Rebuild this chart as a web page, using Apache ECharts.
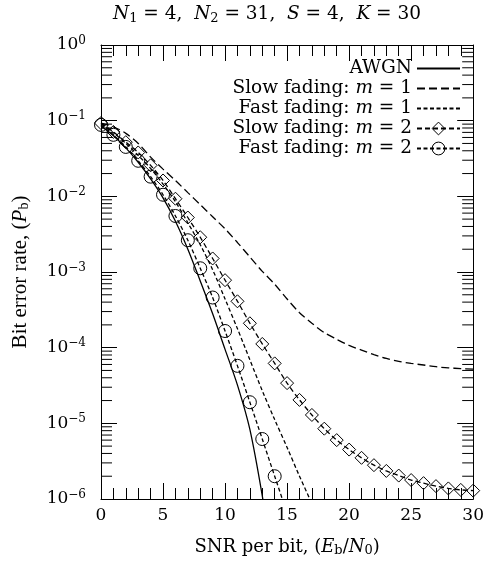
<!DOCTYPE html>
<html><head><meta charset="utf-8">
<script src="https://cdn.jsdelivr.net/npm/echarts@6/dist/echarts.min.js"></script>
<style>html,body{margin:0;padding:0;background:#fff}#c{width:487px;height:563px}</style>
</head><body><div id="c"></div>
<script>
// ---- data ----
const snrAwgn = [0,1,2,3,4,5,6,7,8,9,10,11,12,13,14];
const berAwgn = [0.0851,0.0631,0.0437,0.0282,0.0170,0.00955,0.00468,0.00200,7.6e-4,2.8e-4,9.5e-5,3.2e-5,8.3e-6,1.1e-6,1.0e-7];

const snrSlow1 = [0,1,2,3,4,5,6,7,8,9,10,11,12,13,14,15,16,17,18,19,20,21,22,23,24,25,26,27,28,29,30];
const berSlow1 = [0.093,0.083,0.068,0.050,0.033,0.0229,0.0162,0.0112,0.00776,0.00537,0.00372,0.00245,0.00158,0.00102,6.9e-4,4.4e-4,2.9e-4,2.1e-4,1.58e-4,1.29e-4,1.07e-4,9.3e-5,8.1e-5,7.2e-5,6.6e-5,6.2e-5,5.9e-5,5.6e-5,5.4e-5,5.3e-5,5.2e-5];

const snrFast1 = [0,1,2,3,4,5,6,7,8,9,10,11,12,13,14,15,16,17];
const berFast1 = [0.091,0.069,0.050,0.0347,0.0234,0.0145,0.0085,0.00447,0.00229,0.00107,4.4e-4,1.78e-4,6.9e-5,2.7e-5,1.12e-5,4.8e-6,2.0e-6,8.7e-7];

const snrSlow2 = [0,1,2,3,4,5,6,7,8,9,10,11,12,13,14,15,16,17,18,19,20,21,22,23,24,25,26,27,28,29,30];
const berSlow2 = [0.093,0.071,0.052,0.038,0.0257,0.0162,0.0093,0.00525,0.00288,0.00151,7.8e-4,4.1e-4,2.1e-4,1.12e-4,6.2e-5,3.4e-5,2.04e-5,1.29e-5,8.5e-6,6.0e-6,4.5e-6,3.5e-6,2.8e-6,2.35e-6,2.04e-6,1.78e-6,1.62e-6,1.48e-6,1.38e-6,1.32e-6,1.29e-6];

const snrFast2 = [0,1,2,3,4,5,6,7,8,9,10,11,12,13,14];
const berFast2 = [0.088,0.065,0.045,0.0295,0.0182,0.0105,0.0055,0.00263,0.00112,4.6e-4,1.66e-4,5.75e-5,1.9e-5,6.2e-6,2.0e-6];
const fast2TailX = 15, fast2TailY = 6.5e-7; // line continues past the axis floor, no marker

const xTicks = [0,5,10,15,20,25,30];
const yDecades = [1e-6,1e-5,1e-4,1e-3,1e-2,1e-1,1];
const yMinorMult = [2,3,4,5,6,7,8,9];

const seriesNames = ['AWGN','Slow fading: m = 1','Fast fading: m = 1','Slow fading: m = 2','Fast fading: m = 2'];
const legendRich = {
  'AWGN':'AWGN',
  'Slow fading: m = 1':'Slow fading: {i|m} = 1',
  'Fast fading: m = 1':'Fast fading: {i|m} = 1',
  'Slow fading: m = 2':'Slow fading: {i|m} = 2',
  'Fast fading: m = 2':'Fast fading: {i|m} = 2'
};

// ---- build ----
const zip = (xs, ys) => xs.map((x, i) => [x, ys[i]]);
const minorVals = [];
for (let d = 0; d < yDecades.length - 1; d++) for (const m of yMinorMult) minorVals.push([0, yDecades[d] * m]);

const SERIF = 'DejaVu Serif';
const supMap = {'0':'0','-1':'−1','-2':'−2','-3':'−3','-4':'−4','-5':'−5','-6':'−6'};
const richTick = {
  b:{fontFamily:SERIF,fontSize:17,color:'#000'},
  p:{fontFamily:SERIF,fontSize:12,color:'#000',padding:[0,0,9,0]}
};
const axisBase = {
  axisLine:{show:true,onZero:false,lineStyle:{color:'#000',width:1}},
  splitLine:{show:false}, minorSplitLine:{show:false}
};
const xCommon = Object.assign({}, axisBase, {
  type:'value', min:0, max:30, interval:5,
  axisTick:{show:true,inside:true,length:16,lineStyle:{color:'#000',width:1}},
  minorTick:{show:true,splitNumber:5,length:11,lineStyle:{color:'#000',width:1}}
});
const yCommon = Object.assign({}, axisBase, {
  type:'log', logBase:10, min:1e-6, max:1, splitNumber:6,
  axisTick:{show:true,inside:true,length:16,lineStyle:{color:'#000',width:1}},
  minorTick:{show:false}
});

const chart = echarts.init(document.getElementById('c'), null, {renderer:'canvas'});
const marker = {color:'transparent', borderColor:'#000', borderWidth:1};
const noMarker = {color:'transparent', borderColor:'transparent', borderWidth:0};
const SMOOTH = 0.3;
chart.setOption({
  animation:false,
  backgroundColor:'#fff',
  title:{
    text:'{i|N}{s|1} = 4,  {i|N}{s|2} = 31,  {i|S} = 4,  {i|K} = 30',
    left:113, top:4, padding:0,
    textStyle:{fontFamily:SERIF,fontSize:18.5,fontWeight:'normal',color:'#000',
      rich:{
        i:{fontFamily:SERIF,fontSize:18.5,fontStyle:'italic',color:'#000'},
        s:{fontFamily:SERIF,fontSize:13,color:'#000',padding:[8,0,0,0]}
      }}
  },
  grid:{left:101,right:11,top:45,bottom:64,containLabel:false},
  legend:{
    data:seriesNames.map((n, i) => ({name:n, itemStyle: i < 3 ? noMarker : marker})),
    orient:'vertical', align:'right', padding:0,
    right:26, top:59, itemWidth:43, itemHeight:16, itemGap:1,
    formatter:n => legendRich[n],
    textStyle:{fontFamily:SERIF,fontSize:18.5,color:'#000',lineHeight:18.5,
      rich:{i:{fontFamily:SERIF,fontSize:18.5,fontStyle:'italic',color:'#000'}}},
    selectedMode:false
  },
  xAxis:[
    Object.assign({}, xCommon, {
      position:'bottom',
      axisLabel:{show:true,margin:8,fontFamily:SERIF,fontSize:17,color:'#000'},
      name:'SNR per bit, ({i|E}{s|b}/{i|N}{s|0})', nameLocation:'middle', nameGap:38,
      nameTextStyle:{fontFamily:SERIF,fontSize:18,color:'#000',
        rich:{
          i:{fontFamily:SERIF,fontSize:18,fontStyle:'italic',color:'#000'},
          s:{fontFamily:SERIF,fontSize:13,color:'#000',padding:[7,0,0,0]}
        }}
    }),
    Object.assign({}, xCommon, {position:'top', axisLabel:{show:false}})
  ],
  yAxis:[
    Object.assign({}, yCommon, {
      position:'left',
      axisLabel:{show:true,margin:15,
        formatter:v => { const e = String(Math.round(Math.log10(v))); return '{b|10}{p|' + (supMap[e] || e) + '}'; },
        rich:richTick},
      name:'Bit error rate, ({i|P}{s|b})', nameLocation:'middle', nameGap:70, nameRotate:90,
      nameTextStyle:{fontFamily:'Liberation Serif',fontSize:21,color:'#000',
        rich:{
          i:{fontFamily:'Liberation Serif',fontSize:21,fontStyle:'italic',color:'#000'},
          s:{fontFamily:'Liberation Serif',fontSize:14,color:'#000',padding:[8,0,0,0]}
        }}
    }),
    Object.assign({}, yCommon, {position:'right', axisLabel:{show:false}})
  ],
  series:[
    {name:seriesNames[0], type:'line', data:zip(snrAwgn, berAwgn), symbol:'none', smooth:SMOOTH,
      lineStyle:{color:'#000',width:1.3,type:'solid'}, itemStyle:noMarker},
    {name:seriesNames[1], type:'line', data:zip(snrSlow1, berSlow1), symbol:'none', smooth:SMOOTH,
      lineStyle:{color:'#000',width:1.3,type:[8,4]}, itemStyle:noMarker},
    {name:seriesNames[2], type:'line', data:zip(snrFast1, berFast1), symbol:'none', smooth:SMOOTH,
      lineStyle:{color:'#000',width:1.3,type:[4,2.5]}, itemStyle:noMarker},
    {name:seriesNames[3], type:'line', data:zip(snrSlow2, berSlow2), symbol:'diamond', symbolSize:13, smooth:SMOOTH,
      lineStyle:{color:'#000',width:1.3,type:[5,3]}, itemStyle:marker},
    {name:seriesNames[4], type:'line',
      data:zip(snrFast2, berFast2).concat([{value:[fast2TailX, fast2TailY], symbol:'none'}]),
      symbol:'circle', symbolSize:13, smooth:SMOOTH,
      lineStyle:{color:'#000',width:1.3,type:[4,2.5]}, itemStyle:marker},
    {name:'minorTicks', type:'custom', silent:true, clip:false, z:10,
      data:minorVals, encode:{x:0,y:1},
      renderItem:(params, api) => {
        const p = api.coord([0, api.value(1)]);
        const cs = params.coordSys;
        const L = 11;
        return {type:'group', children:[
          {type:'line', shape:{x1:cs.x, y1:p[1], x2:cs.x + L, y2:p[1]}, style:{stroke:'#000', lineWidth:1}},
          {type:'line', shape:{x1:cs.x + cs.width, y1:p[1], x2:cs.x + cs.width - L, y2:p[1]}, style:{stroke:'#000', lineWidth:1}}
        ]};
      }}
  ]
});
</script></body></html>
